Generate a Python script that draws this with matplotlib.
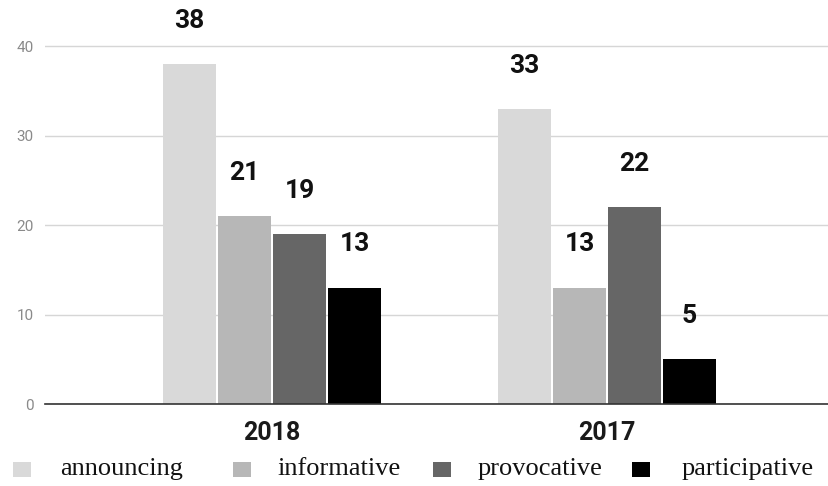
import matplotlib.pyplot as plt
import numpy as np
from matplotlib.patches import Rectangle

years = ["2018", "2017"]
categories = ["announcing", "informative", "provocative", "participative"]
announcing = [38, 33]
informative = [21, 13]
provocative = [19, 22]
participative = [13, 5]
series = [announcing, informative, provocative, participative]
colors = ["#d9d9d9", "#b7b7b7", "#666666", "#000000"]
yticks = [0, 10, 20, 30, 40]

W, H = 829, 486
fig = plt.figure(figsize=(W / 100, H / 100), dpi=100)
ax = fig.add_axes([45 / W, 82 / H, 784 / W, 404 / H])

x = np.arange(len(years))
step = 0.164
width = 0.158
for i, (vals, col) in enumerate(zip(series, colors)):
    pos = x + (i - 1.5) * step
    ax.bar(pos, vals, width=width, color=col, zorder=3)
    for p, v in zip(pos, vals):
        ax.text(p, v + 4.85, str(v), ha="center", va="center",
                fontsize=19, fontweight="bold", family="Roboto", color="#111111")

ax.set_xlim(-0.678, 1.663)
ax.set_ylim(0, 45.2)
ax.set_yticks(yticks)
ax.set_yticklabels([str(t) for t in yticks], family="Roboto", fontsize=11, color="#8a8a8a")
ax.grid(axis="y", color="#d6d6d6", linewidth=1, zorder=0)
ax.tick_params(axis="y", length=0, pad=8)
ax.tick_params(axis="x", length=0, pad=12)
ax.set_xticks(x)
ax.set_xticklabels(years, fontsize=18, fontweight="bold", family="Roboto", color="#1a1a1a")

for s in ["top", "right", "left"]:
    ax.spines[s].set_visible(False)
ax.spines["bottom"].set_color("#333333")
ax.spines["bottom"].set_linewidth(1.2)
ax.spines["bottom"].set_zorder(4)

# legend row along the bottom: swatch + serif label for each series
swatch_x = [13, 233, 433, 632]
label_x = [60, 277, 478, 682]
for sx, lx, col, name in zip(swatch_x, label_x, colors, categories):
    fig.patches.append(Rectangle((sx / W, (H - 477) / H), 18 / W, 15 / H,
                                 transform=fig.transFigure, facecolor=col,
                                 edgecolor="none"))
    fig.text(lx / W, (H - 469) / H, name, ha="left", va="center",
             family="Liberation Serif", fontsize=19, color="#111111")

fig.savefig("out.png", dpi=100)
